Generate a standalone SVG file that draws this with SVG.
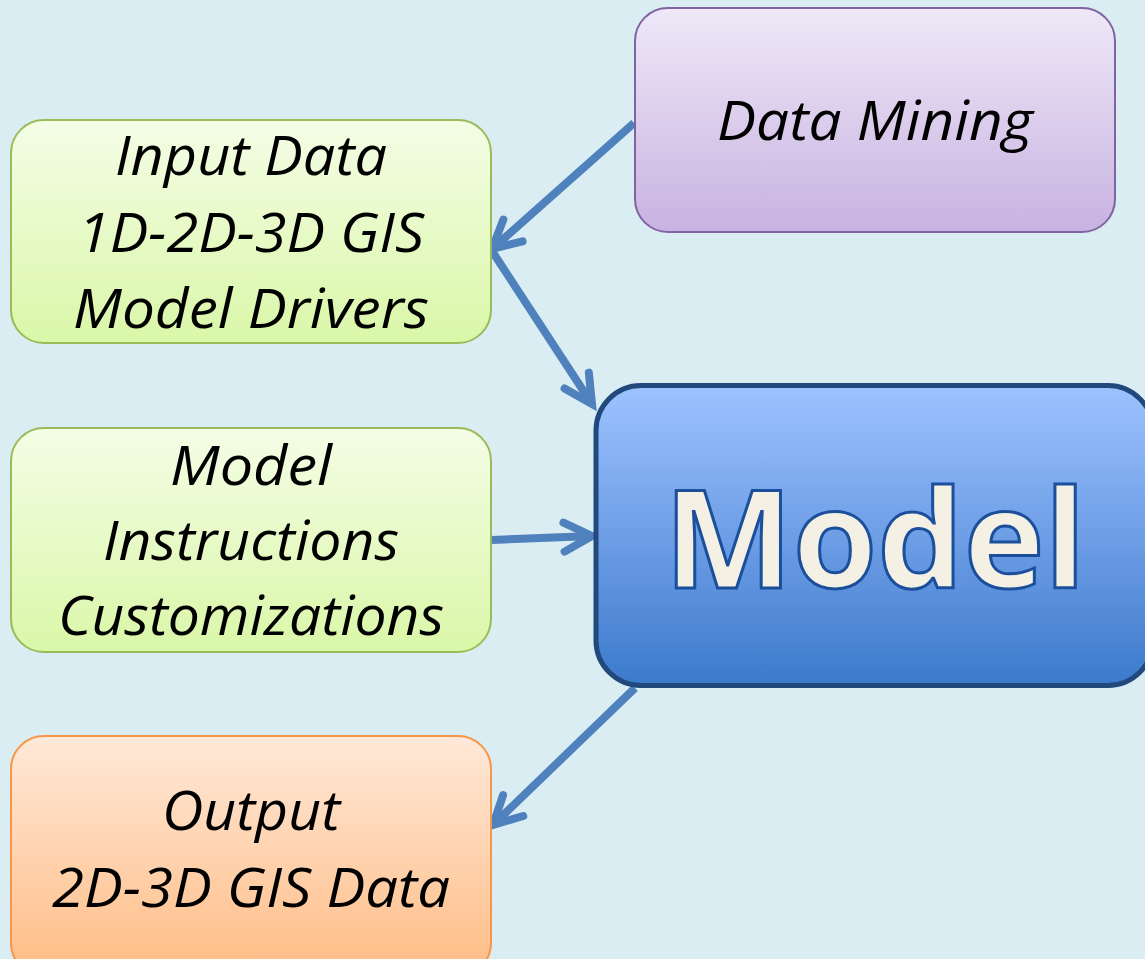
<svg xmlns="http://www.w3.org/2000/svg" width="1145" height="959" viewBox="0 0 1145 959">
<style>
.lbl{font-family:"Open Sans","Liberation Sans",sans-serif;font-style:italic;font-size:54px;fill:#000;text-anchor:middle}
.big{font-family:"Open Sans","Liberation Sans",sans-serif;font-weight:700;font-size:136px;fill:#F4F0E4;stroke:#1B4F9C;stroke-width:3;text-anchor:middle}
.conn{fill:none;stroke:#4F81BD;stroke-width:8;stroke-linecap:butt}
</style>
<defs>
<linearGradient id="gPurple" x1="0" y1="0" x2="0" y2="1"><stop offset="0" stop-color="#EEE8F7"/><stop offset="1" stop-color="#C8B2E1"/></linearGradient>
<linearGradient id="gGreen" x1="0" y1="0" x2="0" y2="1"><stop offset="0" stop-color="#F4FDE6"/><stop offset="1" stop-color="#DAF7A8"/></linearGradient>
<linearGradient id="gOrange" x1="0" y1="0" x2="0" y2="1"><stop offset="0" stop-color="#FFE9D9"/><stop offset="1" stop-color="#FFBC84"/></linearGradient>
<linearGradient id="gBlue" x1="0" y1="0" x2="0" y2="1"><stop offset="0" stop-color="#9DC3FF"/><stop offset="0.5" stop-color="#6E9EE6"/><stop offset="1" stop-color="#3C7ACC"/></linearGradient>
<marker id="arr" markerUnits="userSpaceOnUse" markerWidth="60" markerHeight="60" refX="0" refY="0" viewBox="-40 -30 60 60" orient="auto" overflow="visible">
<path d="M-28,-14.5 L0,0 L-28,14.5" fill="none" stroke="#4F81BD" stroke-width="8" stroke-linecap="round" stroke-linejoin="miter"/>
</marker>
</defs>
<rect x="0" y="0" width="1145" height="959" fill="#DAEDF3"/>
<g id="connectors">
<path class="conn" d="M634,123 L492,249" marker-end="url(#arr)"/>
<path class="conn" d="M492,251 L592,404" marker-end="url(#arr)"/>
<path class="conn" d="M492,540 L592,536" marker-end="url(#arr)"/>
<path class="conn" d="M635,688 L493,825" marker-end="url(#arr)"/>
</g>
<g id="data-mining">
<rect x="635" y="8" width="480" height="224" rx="33" fill="url(#gPurple)" stroke="#8064A2" stroke-width="2"/>
<text class="lbl" x="875" y="140" textLength="316" lengthAdjust="spacingAndGlyphs">Data Mining</text>
</g>
<g id="input-data">
<rect x="11" y="120" width="480" height="223" rx="33" fill="url(#gGreen)" stroke="#9BBB59" stroke-width="2"/>
<text class="lbl" x="251" y="175" textLength="272" lengthAdjust="spacingAndGlyphs">Input Data</text>
<text class="lbl" x="251" y="252" textLength="346" lengthAdjust="spacingAndGlyphs">1D-2D-3D GIS</text>
<text class="lbl" x="251" y="328" textLength="356" lengthAdjust="spacingAndGlyphs">Model Drivers</text>
</g>
<g id="model-instructions">
<rect x="11" y="428" width="480" height="224" rx="33" fill="url(#gGreen)" stroke="#9BBB59" stroke-width="2"/>
<text class="lbl" x="251" y="485" textLength="162" lengthAdjust="spacingAndGlyphs">Model</text>
<text class="lbl" x="251" y="560" textLength="296" lengthAdjust="spacingAndGlyphs">Instructions</text>
<text class="lbl" x="251" y="635" textLength="386" lengthAdjust="spacingAndGlyphs">Customizations</text>
</g>
<g id="output">
<rect x="11" y="736" width="480" height="240" rx="33" fill="url(#gOrange)" stroke="#F79646" stroke-width="2"/>
<text class="lbl" x="251" y="830" textLength="178" lengthAdjust="spacingAndGlyphs">Output</text>
<text class="lbl" x="251" y="907" textLength="398" lengthAdjust="spacingAndGlyphs">2D-3D GIS Data</text>
</g>
<g id="model">
<rect x="596" y="385.5" width="557" height="300" rx="45" fill="url(#gBlue)" stroke="#21497C" stroke-width="5"/>
<text class="big" x="875" y="588" textLength="422" lengthAdjust="spacingAndGlyphs">Model</text>
</g>
</svg>
